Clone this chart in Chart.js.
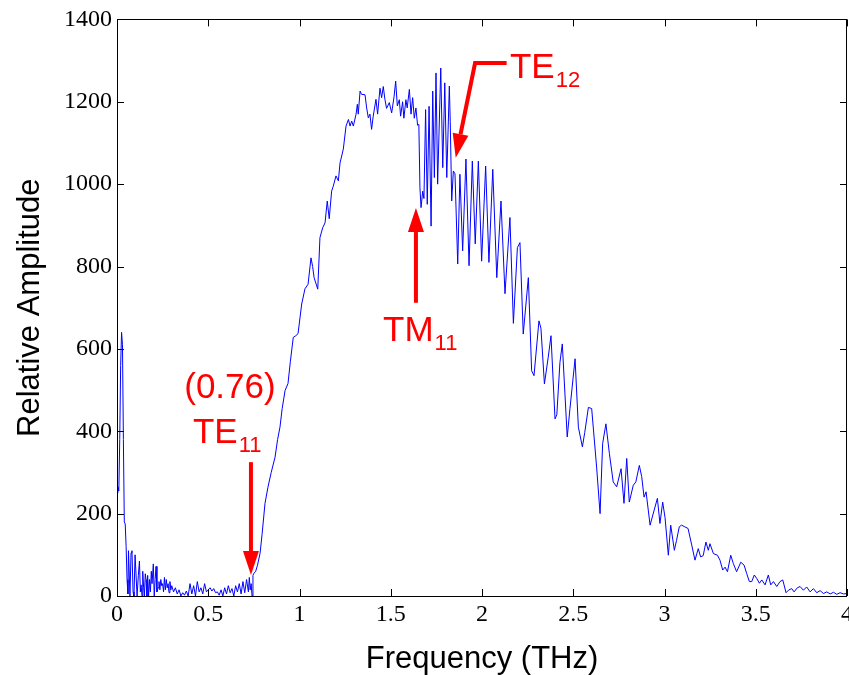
<!DOCTYPE html>
<html>
<head>
<meta charset="utf-8">
<script src="https://cdn.jsdelivr.net/npm/chart.js@4.4.1/dist/chart.umd.min.js"></script>
<style>
  html, body { margin: 0; padding: 0; background: #fff; }
  canvas { display: block; }
</style>
</head>
<body>
<canvas id="spectrum" width="849" height="675"></canvas>
<script>
// frequency (THz) and relative amplitude
const freq = [
  0, 0.005, 0.01, 0.015, 0.02, 0.025, 0.03, 0.035, 0.04, 0.045, 0.05, 0.055, 0.06,
  0.063, 0.071, 0.077, 0.082, 0.088, 0.093, 0.099, 0.104, 0.11, 0.117, 0.123, 0.128,
  0.132, 0.137, 0.141, 0.146, 0.15, 0.155, 0.159, 0.164, 0.168, 0.173, 0.178, 0.183,
  0.188, 0.192, 0.199, 0.204, 0.209, 0.214, 0.219, 0.225, 0.23, 0.235, 0.24, 0.245,
  0.25, 0.255, 0.26, 0.265, 0.27, 0.275, 0.28, 0.285, 0.29, 0.295, 0.3,
  0.31, 0.32, 0.33, 0.34, 0.35, 0.36, 0.37, 0.38, 0.39, 0.4, 0.41, 0.42, 0.43, 0.44,
  0.45, 0.46, 0.47, 0.48, 0.49, 0.5, 0.51, 0.52, 0.53, 0.54, 0.55, 0.56, 0.57, 0.58,
  0.59, 0.6, 0.61, 0.62, 0.63, 0.64, 0.65, 0.66, 0.67, 0.68, 0.69, 0.7, 0.71, 0.72,
  0.725, 0.73, 0.735, 0.74, 0.745, 0.75, 0.76, 0.77, 0.784, 0.795, 0.811, 0.827,
  0.845, 0.866, 0.88, 0.893, 0.905, 0.921, 0.937, 0.95, 0.966, 0.98, 0.992,
  1.012, 1.03, 1.047, 1.063, 1.072, 1.08, 1.1, 1.112, 1.127, 1.14, 1.152, 1.163,
  1.176, 1.185, 1.2, 1.213, 1.222, 1.24, 1.255, 1.268, 1.277, 1.286, 1.295, 1.31,
  1.317, 1.322, 1.332, 1.34, 1.359, 1.368, 1.377, 1.386, 1.395, 1.404, 1.419, 1.428,
  1.441, 1.45, 1.459, 1.468, 1.477, 1.492, 1.505, 1.518, 1.527, 1.536, 1.547, 1.554,
  1.565, 1.572, 1.583, 1.59, 1.602, 1.611, 1.62, 1.629, 1.638, 1.647, 1.654,
  1.66, 1.666, 1.675, 1.682, 1.691, 1.7, 1.71, 1.721, 1.73, 1.739, 1.748, 1.757,
  1.774, 1.785, 1.796, 1.807, 1.821, 1.826, 1.834, 1.843, 1.852, 1.867, 1.879,
  1.894, 1.912, 1.929, 1.947, 1.963, 1.98, 1.998, 2.02, 2.038, 2.059, 2.081,
  2.104, 2.126, 2.153, 2.172, 2.194, 2.208, 2.226, 2.254, 2.272, 2.285, 2.312,
  2.323, 2.342, 2.363, 2.378, 2.4, 2.41, 2.427, 2.44, 2.467, 2.482, 2.51, 2.528,
  2.55, 2.563, 2.583, 2.601, 2.628, 2.647, 2.661, 2.679, 2.698, 2.719, 2.738,
  2.762, 2.778, 2.793, 2.807, 2.829, 2.843, 2.862, 2.875, 2.888, 2.899, 2.921,
  2.948, 2.961, 2.975, 2.99, 3.003, 3.021, 3.034, 3.054, 3.066, 3.081, 3.093,
  3.111, 3.129, 3.149, 3.167, 3.185, 3.198, 3.212, 3.227, 3.24, 3.249, 3.268,
  3.29, 3.304, 3.319, 3.332, 3.345, 3.363, 3.377, 3.395, 3.418, 3.436, 3.45,
  3.465, 3.478, 3.492, 3.505, 3.52, 3.533, 3.551, 3.569, 3.582, 3.597, 3.615,
  3.633, 3.648, 3.655, 3.666, 3.679, 3.697, 3.71, 3.728, 3.743, 3.761, 3.779,
  3.798, 3.816, 3.834, 3.853, 3.871, 3.889, 3.908, 3.926, 3.944, 3.962, 3.981, 4.0
];
const amp = [
  250, 265, 255, 380, 560, 640, 610, 380, 180, 175, 120, 40, 5,
  110, 0, 105, 110, 10, 0, 100, 100, 0, 50, 85, 10,
  27, 0, 60, 20, 0, 54, 40, 0, 50, 0, 40, 10,
  60, 30, 78, 0, 40, 72, 10, 20, 35, 15, 40, 25,
  30, 10, 45, 15, 40, 20, 30, 8, 35, 15, 25,
  10, 20, 5, 15, 0, 8, 2, 12, 0, 30, 5, 25, 0, 35,
  10, 20, 5, 30, 10, 15, 20, 12, 18, 8, 10, 2, 15, 0,
  20, 5, 25, 8, 18, 0, 25, 10, 30, 5, 35, 8, 40, 10,
  45, 15, 30, 0, 50, 55, 60, 75, 104, 150, 225, 264,
  300, 337, 380, 410, 455, 499, 516, 570, 628, 632, 637,
  709, 746, 757, 821, 800, 773, 745, 870, 894, 906, 959, 916,
  983, 995, 1020, 1008, 1051, 1085, 1141, 1157, 1141, 1153, 1141, 1170,
  1194, 1170, 1226, 1218, 1217, 1185, 1161, 1170, 1133, 1165, 1206, 1170,
  1233, 1210, 1237, 1206, 1184, 1198, 1173, 1212, 1250, 1190, 1205, 1165,
  1200, 1160, 1205, 1185, 1230, 1170, 1210, 1160, 1185, 1143, 1145,
  991, 943, 983, 965, 1181, 951, 1189, 898, 1226, 1016, 1270, 1000,
  1282, 1040, 1246, 1016, 1238, 1152, 959, 1032, 1025, 806, 1024,
  838, 1061, 802, 1056, 855, 1056, 813, 1044, 810, 1036, 773,
  959, 734, 919, 662, 846, 858, 636, 773, 547, 535, 668,
  650, 515, 580, 632, 430, 440, 567, 612, 386, 455, 576, 410,
  362, 397, 458, 455, 313, 200, 370, 418, 346, 277, 265,
  309, 225, 334, 228, 269, 277, 317, 290, 240, 253, 172,
  216, 237, 176, 228, 190, 99, 172, 111, 135, 168, 172,
  168, 164, 124, 87, 115, 95, 98, 131, 111, 127, 103,
  99, 87, 63, 70, 59, 99, 79, 59, 82, 75, 55,
  35, 35, 51, 43, 31, 39, 27, 51, 27, 35, 23,
  35, 39, 27, 8, 14, 18, 10, 20, 23, 14, 22,
  10, 18, 8, 13, 6, 10, 5, 9, 4, 8, 5, 6
];

const xTicks = [0, 0.5, 1, 1.5, 2, 2.5, 3, 3.5, 4];
const yTicks = [0, 200, 400, 600, 800, 1000, 1200, 1400];

// mode annotations, in data units: arrow path (tail ... tip) and label
const te11Arrow = [[0.734, 325], [0.734, 51]];
const tm11Arrow = [[1.638, 712], [1.638, 942]];
const te12Arrow = [[2.135, 1294], [1.962, 1294], [1.856, 1064]];
const cutoffLabel = { text: '(0.76)', x: 0.619, y: 480 };
const modeLabels = [
  { main: 'TE', sub: '11', x: 0.416, y: 371 },
  { main: 'TM', sub: '11', x: 1.458, y: 620 },
  { main: 'TE', sub: '12', x: 2.153, y: 1257 }
];

const points = freq.map((f, i) => ({ x: f, y: amp[i] }));

const RED = '#ff0000';

function drawArrow(ctx, x, y, path) {
  const pts = path.map(p => [x.getPixelForValue(p[0]), y.getPixelForValue(p[1])]);
  const n = pts.length;
  const tip = pts[n - 1], prev = pts[n - 2];
  const ang = Math.atan2(tip[1] - prev[1], tip[0] - prev[0]);
  const headLen = 24, headW = 8;
  const bx = tip[0] - headLen * Math.cos(ang), by = tip[1] - headLen * Math.sin(ang);
  ctx.strokeStyle = RED;
  ctx.fillStyle = RED;
  ctx.lineWidth = 4;
  ctx.lineJoin = 'miter';
  ctx.beginPath();
  ctx.moveTo(pts[0][0], pts[0][1]);
  for (let i = 1; i < n - 1; i++) ctx.lineTo(pts[i][0], pts[i][1]);
  ctx.lineTo(bx, by);
  ctx.stroke();
  ctx.beginPath();
  ctx.moveTo(tip[0], tip[1]);
  ctx.lineTo(bx + headW * Math.sin(ang), by - headW * Math.cos(ang));
  ctx.lineTo(bx - headW * Math.sin(ang), by + headW * Math.cos(ang));
  ctx.closePath();
  ctx.fill();
}

const decorations = {
  id: 'decorations',
  afterDraw(chart) {
    const { ctx, chartArea: a, scales: { x, y } } = chart;
    ctx.save();
    // MATLAB style box with inward ticks
    ctx.strokeStyle = '#000';
    ctx.lineWidth = 1;
    ctx.strokeRect(Math.round(a.left) + 0.5, Math.round(a.top) + 0.5,
      Math.round(a.right - a.left) - 1, Math.round(a.bottom - a.top));
    const tl = 7;
    ctx.beginPath();
    xTicks.forEach(t => {
      const px = Math.round(x.getPixelForValue(t)) + 0.5;
      ctx.moveTo(px, a.bottom); ctx.lineTo(px, a.bottom - tl);
      ctx.moveTo(px, a.top); ctx.lineTo(px, a.top + tl);
    });
    yTicks.forEach(t => {
      const py = Math.round(y.getPixelForValue(t)) + 0.5;
      ctx.moveTo(a.left, py); ctx.lineTo(a.left + tl, py);
      ctx.moveTo(a.right, py); ctx.lineTo(a.right - tl, py);
    });
    ctx.stroke();

    // arrows
    drawArrow(ctx, x, y, te11Arrow);
    drawArrow(ctx, x, y, tm11Arrow);
    drawArrow(ctx, x, y, te12Arrow);

    // labels
    ctx.fillStyle = RED;
    ctx.textBaseline = 'alphabetic';
    ctx.font = '35px "Liberation Sans", Arial, sans-serif';
    ctx.textAlign = 'center';
    ctx.fillText(cutoffLabel.text, x.getPixelForValue(cutoffLabel.x), y.getPixelForValue(cutoffLabel.y));
    ctx.textAlign = 'left';
    modeLabels.forEach(l => {
      const px = x.getPixelForValue(l.x), py = y.getPixelForValue(l.y);
      ctx.font = '35px "Liberation Sans", Arial, sans-serif';
      ctx.fillText(l.main, px, py);
      const w = ctx.measureText(l.main).width;
      ctx.font = '22px "Liberation Sans", Arial, sans-serif';
      ctx.fillText(l.sub, px + w + 1, py + 9);
    });
    ctx.restore();
  }
};

new Chart(document.getElementById('spectrum'), {
  type: 'line',
  data: {
    datasets: [{
      data: points,
      borderColor: '#0000ff',
      borderWidth: 1,
      pointRadius: 0,
      tension: 0,
      fill: false
    }]
  },
  options: {
    responsive: false,
    animation: false,
    devicePixelRatio: 1,
    layout: { padding: { top: 18, right: 2, left: 0, bottom: 0 } },
    plugins: {
      legend: { display: false },
      tooltip: { enabled: false }
    },
    scales: {
      x: {
        type: 'linear',
        min: 0,
        max: 4,
        afterBuildTicks: s => { s.ticks = xTicks.map(v => ({ value: v })); },
        afterFit: s => { s.height = 79; s.paddingLeft = 0; s.paddingRight = 0; },
        grid: { display: false, drawTicks: false },
        border: { display: false },
        ticks: {
          color: '#000',
          padding: 4,
          maxRotation: 0,
          callback: v => String(v),
          font: { family: '"Liberation Serif", "Times New Roman", serif', size: 24 }
        },
        title: {
          display: true,
          text: 'Frequency (THz)',
          color: '#000',
          padding: { top: 0, bottom: 0 },
          font: { family: '"Liberation Sans", Arial, sans-serif', size: 31, lineHeight: 1 }
        }
      },
      y: {
        min: 0,
        max: 1400,
        afterBuildTicks: s => { s.ticks = yTicks.map(v => ({ value: v })); },
        afterFit: s => { s.width = 117; },
        grid: { display: false, drawTicks: false },
        border: { display: false },
        ticks: {
          color: '#000',
          padding: 5,
          callback: v => String(v),
          font: { family: '"Liberation Serif", "Times New Roman", serif', size: 24 }
        },
        title: {
          display: true,
          text: 'Relative Amplitude',
          color: '#000',
          padding: { top: 15, bottom: 0 },
          font: { family: '"Liberation Sans", Arial, sans-serif', size: 31, lineHeight: 1 }
        }
      }
    }
  },
  plugins: [decorations]
});
</script>
</body>
</html>
